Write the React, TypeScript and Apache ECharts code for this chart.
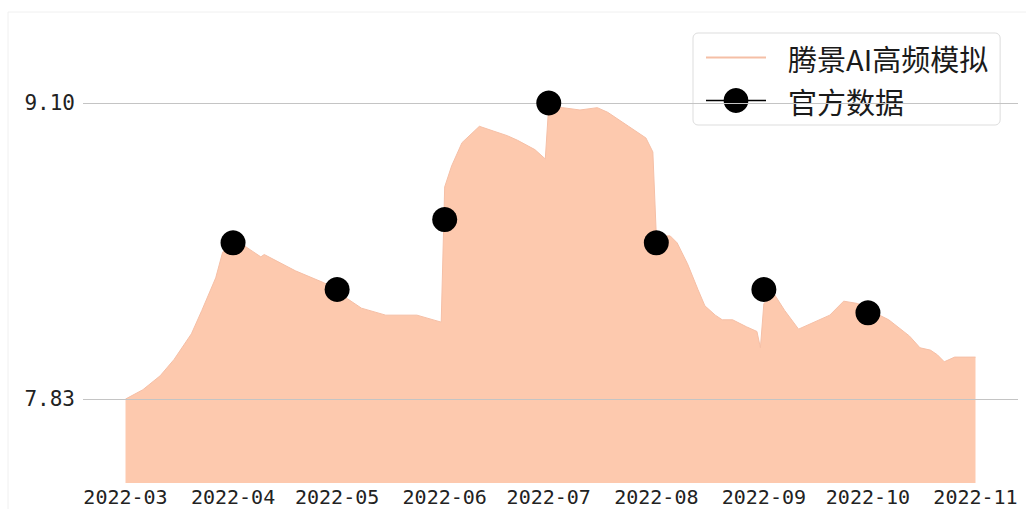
import React, { useEffect, useRef } from "react";
import * as echarts from "echarts";

const aiDates = [
  "2022-03-01", "2022-03-06", "2022-03-11", "2022-03-15", "2022-03-20", "2022-03-23",
  "2022-03-27", "2022-03-29", "2022-03-31", "2022-04-04", "2022-04-09", "2022-04-10",
  "2022-04-19", "2022-04-27", "2022-05-01", "2022-05-04", "2022-05-08", "2022-05-15",
  "2022-05-24", "2022-05-31", "2022-06-01", "2022-06-03", "2022-06-06", "2022-06-11",
  "2022-06-15", "2022-06-19", "2022-06-22", "2022-06-27", "2022-06-30", "2022-07-01",
  "2022-07-05", "2022-07-10", "2022-07-15", "2022-07-18", "2022-07-24", "2022-07-29",
  "2022-07-31", "2022-08-01", "2022-08-05", "2022-08-07", "2022-08-10", "2022-08-13",
  "2022-08-15", "2022-08-18", "2022-08-20", "2022-08-23", "2022-08-27", "2022-08-30",
  "2022-08-31", "2022-09-01", "2022-09-04", "2022-09-07", "2022-09-11", "2022-09-14",
  "2022-09-20", "2022-09-24", "2022-09-28", "2022-10-01", "2022-10-03", "2022-10-07",
  "2022-10-13", "2022-10-16", "2022-10-19", "2022-10-21", "2022-10-23", "2022-10-26",
  "2022-10-29", "2022-11-01",
];
const aiValues = [
  7.83, 7.87, 7.93, 8.0, 8.11, 8.21,
  8.35, 8.46, 8.49, 8.49, 8.44, 8.45,
  8.38, 8.33, 8.3, 8.26, 8.22, 8.19,
  8.19, 8.16, 8.74, 8.83, 8.93, 9.0,
  8.98, 8.96, 8.94, 8.9, 8.86, 9.09,
  9.08, 9.07, 9.08, 9.06, 9.0, 8.95,
  8.89, 8.53, 8.53, 8.5, 8.41, 8.3,
  8.23, 8.19, 8.17, 8.17, 8.14, 8.12,
  8.05, 8.24, 8.28, 8.21, 8.13, 8.15,
  8.19, 8.25, 8.24, 8.22, 8.2, 8.17,
  8.1, 8.05, 8.04, 8.02, 7.99, 8.01,
  8.01, 8.01,
];

const officialDates = [
  "2022-04-01", "2022-05-01", "2022-06-01", "2022-07-01", "2022-08-01", "2022-09-01", "2022-10-01",
];
const officialValues = [8.5, 8.3, 8.6, 9.1, 8.5, 8.3, 8.2];

const xTickLabels = [
  "2022-03", "2022-04", "2022-05", "2022-06", "2022-07", "2022-08", "2022-09", "2022-10", "2022-11",
];
const yTickValues = [7.83, 9.1];

const seriesNames = ["腾景AI高频模拟", "官方数据"];

function toTime(s: string): number {
  const parts = s.split("-").map(Number);
  return new Date(parts[0], parts[1] - 1, parts[2] || 1).getTime();
}

function pad2(n: number): string {
  return n < 10 ? "0" + n : String(n);
}

export default function App() {
  const ref = useRef<HTMLDivElement>(null);

  useEffect(() => {
    if (!ref.current) return;
    const chart = echarts.init(ref.current, undefined, { renderer: "svg" });
    const day = 86400000;
    const xMin = toTime(xTickLabels[0]) - 12.25 * day;
    const xMax = toTime(xTickLabels[xTickLabels.length - 1]) + 12.25 * day;
    const mono = "DejaVu Sans Mono";

    chart.setOption({
      animation: false,
      backgroundColor: "#ffffff",
      graphic: [
        { type: "line", shape: { x1: 8, y1: 12, x2: 1026, y2: 12 }, style: { stroke: "#f0f0f0", lineWidth: 1 }, silent: true },
        { type: "line", shape: { x1: 8, y1: 12, x2: 8, y2: 509 }, style: { stroke: "#f0f0f0", lineWidth: 1 }, silent: true },
      ],
      grid: { left: 83, right: 8, top: 20, bottom: 26, containLabel: false, outerBoundsMode: "none" },
      legend: {
        orient: "vertical",
        left: 693,
        top: 33,
        padding: [10, 12, 10, 12],
        itemWidth: 60,
        itemHeight: 31,
        itemGap: 14,
        borderColor: "#dddddd",
        borderWidth: 1,
        borderRadius: 5,
        backgroundColor: "rgba(255,255,255,0.8)",
        textStyle: {
          fontSize: 29,
          fontFamily: "Noto Sans CJK SC",
          color: "#1a1a1a",
          padding: [0, 0, 0, 17],
        },
        data: [
          { name: seriesNames[0], itemStyle: { opacity: 0 } },
          { name: seriesNames[1], lineStyle: { opacity: 1, color: "#000000", width: 1.5 } },
        ],
      },
      xAxis: {
        type: "value",
        min: xMin,
        max: xMax,
        axisLine: { show: false },
        axisTick: { show: false },
        splitLine: { show: false },
        axisLabel: {
          customValues: xTickLabels.map(toTime),
          formatter: (v: number) => {
            const d = new Date(v);
            return d.getFullYear() + "-" + pad2(d.getMonth() + 1);
          },
          fontSize: 20,
          lineHeight: 20,
          fontFamily: mono,
          color: "#222222",
          margin: 4,
        },
      },
      yAxis: {
        type: "value",
        min: 7.47,
        max: 9.456,
        axisLine: { show: false },
        axisTick: { show: false },
        splitLine: { show: false },
        axisLabel: {
          customValues: yTickValues,
          formatter: (v: number) => v.toFixed(2),
          fontSize: 21,
          fontFamily: mono,
          color: "#222222",
          margin: 8,
        },
      },
      series: [
        {
          name: seriesNames[0],
          type: "line",
          data: aiDates.map((d, i) => [toTime(d), aiValues[i]]),
          symbol: "none",
          showSymbol: false,
          lineStyle: { color: "#f5bfa6", width: 1 },
          itemStyle: { color: "#f5bfa6" },
          areaStyle: { color: "#fdc9ae", opacity: 1, origin: "start" },
          z: 2,
          markLine: {
            silent: true,
            symbol: ["none", "none"],
            label: { show: false },
            lineStyle: { color: "#c4c4c4", width: 1, type: "solid" },
            emphasis: { disabled: true },
            data: yTickValues.map((v) => ({ yAxis: v })),
          },
        },
        {
          name: seriesNames[1],
          type: "line",
          data: officialDates.map((d, i) => [toTime(d), officialValues[i]]),
          symbol: "circle",
          symbolSize: 25,
          showSymbol: true,
          itemStyle: { color: "#000000" },
          lineStyle: { color: "#000000", width: 1.5, opacity: 0 },
          z: 5,
        },
      ],
    });

    return () => {
      chart.dispose();
    };
  }, []);

  return (
    <div
      ref={ref}
      style={{ position: "fixed", left: 0, top: 0, width: 1026, height: 509 }}
    />
  );
}
